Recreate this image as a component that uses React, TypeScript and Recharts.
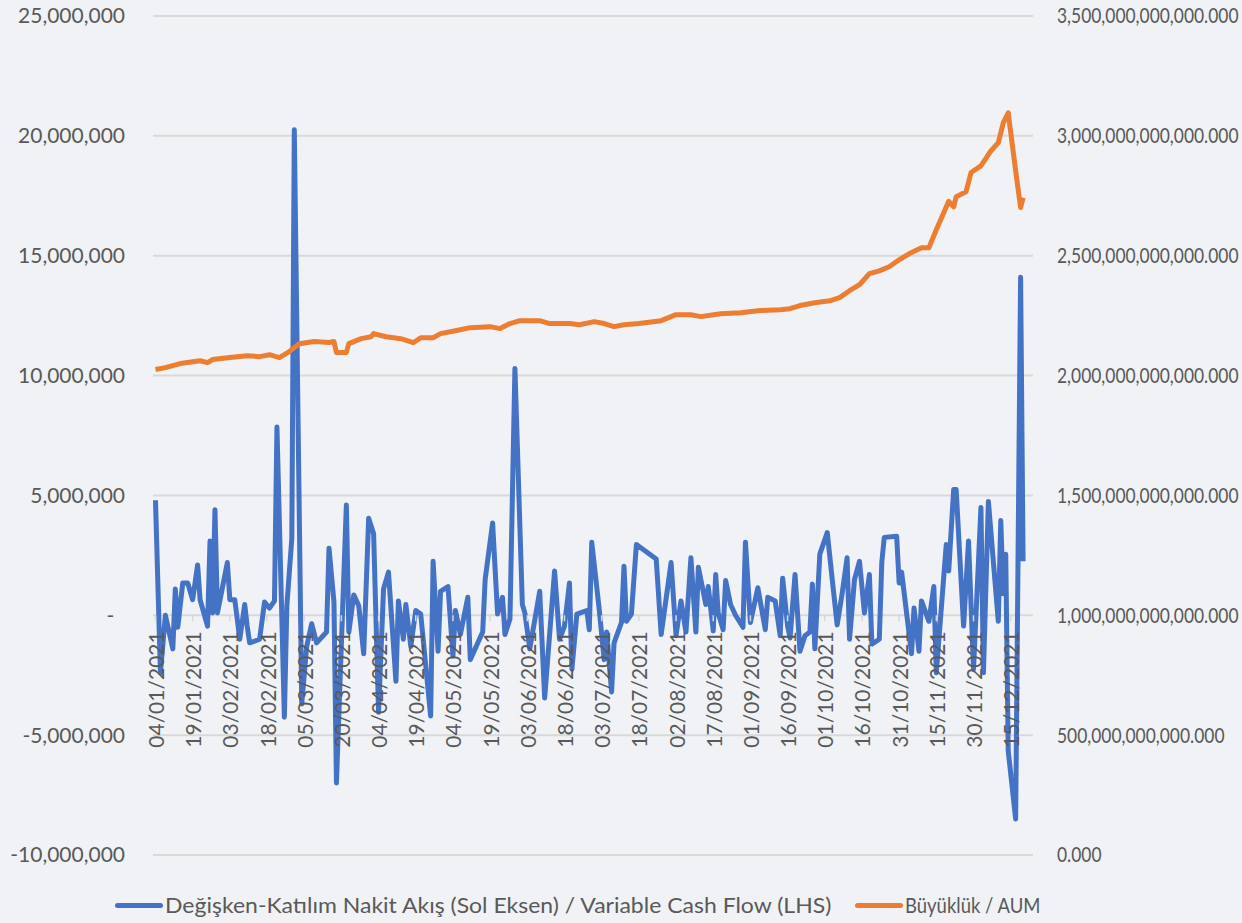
import { CartesianGrid, Line, LineChart, XAxis, YAxis } from 'recharts'

// days are dd/mm in 2021
const flowDates = [
  '04/01', '06/01', '08/01', '11/01', '12/01', '13/01', '15/01', '17/01', '19/01', '21/01',
  '22/01', '25/01', '26/01', '27/01', '28/01', '29/01', '31/01', '02/02', '03/02', '05/02',
  '07/02', '09/02', '10/02', '11/02', '15/02', '17/02', '19/02', '21/02', '22/02', '25/02',
  '26/02', '28/02', '01/03', '04/03', '06/03', '08/03', '10/03', '14/03', '15/03', '17/03',
  '18/03', '22/03', '23/03', '25/03', '27/03', '29/03', '31/03', '02/04', '04/04', '06/04',
  '08/04', '11/04', '12/04', '14/04', '15/04', '17/04', '19/04', '21/04', '25/04', '26/04',
  '28/04', '29/04', '02/05', '04/05', '05/05', '07/05', '10/05', '11/05', '16/05', '17/05',
  '20/05', '22/05', '24/05', '25/05', '27/05', '29/05', '01/06', '02/06', '04/06', '08/06',
  '10/06', '14/06', '16/06', '18/06', '20/06', '21/06', '23/06', '27/06', '28/06', '29/06',
  '02/07', '04/07', '05/07', '07/07', '08/07', '11/07', '12/07', '13/07', '15/07', '17/07',
  '25/07', '27/07', '31/07', '02/08', '04/08', '06/08', '08/08', '10/08', '11/08', '14/08',
  '15/08', '17/08', '18/08', '19/08', '21/08', '22/08', '24/08', '26/08', '29/08', '30/08',
  '01/09', '04/09', '07/09', '08/09', '11/09', '13/09', '14/09', '16/09', '17/09', '19/09',
  '21/09', '23/09', '25/09', '26/09', '27/09', '29/09', '02/10', '04/10', '06/10', '08/10',
  '10/10', '11/10', '13/10', '15/10', '17/10', '19/10', '20/10', '23/10', '24/10', '25/10',
  '30/10', '31/10', '01/11', '05/11', '06/11', '08/11', '09/11', '12/11', '14/11', '15/11',
  '19/11', '20/11', '22/11', '23/11', '26/11', '28/11', '30/11', '03/12', '04/12', '06/12',
  '10/12', '11/12', '12/12', '13/12', '14/12', '17/12', '19/12', '20/12',
]

// millions TL
const flowMillions = [
  4.8, -2.4, 0.0, -1.4, 1.1, -0.5, 1.35, 1.35, 0.65, 2.1,
  0.65, -0.45, 3.1, 0.1, 4.4, 0.1, 1.15, 2.2, 0.65, 0.65,
  -1.0, 0.45, -0.45, -1.15, -1.0, 0.55, 0.3, 0.6, 7.85, -4.25,
  0.4, 3.2, 20.25, -3.7, -1.3, -0.35, -1.15, -0.7, 2.8, 0.55,
  -7.0, 4.6, -0.7, 0.85, 0.4, -1.6, 4.05, 3.4, -4.05, 1.1,
  1.8, -2.75, 0.6, -1.0, 0.45, -1.3, 0.2, 0.05, -4.2, 2.25,
  -1.5, 1.0, 1.2, -1.7, 0.2, -0.8, 0.75, -1.85, -0.7, 1.5,
  3.85, 0.05, 0.75, -0.8, -0.15, 10.3, 0.45, 0.1, -1.4, 1.0,
  -3.45, 1.85, -1.0, -0.45, 1.35, -2.25, 0.05, 0.2, -0.6, 3.05,
  0.25, -1.85, -0.7, -3.2, -1.15, -0.3, 2.05, -0.25, 0.05, 2.95,
  2.35, -0.8, 2.2, -0.85, 0.6, -0.7, 2.4, -0.7, 2.0, 0.45,
  1.2, -0.65, 1.7, 0.1, -0.6, 1.45, 0.45, 0.0, -0.5, 3.05,
  -0.3, 1.15, -0.6, 0.75, 0.6, -0.85, 1.55, -0.45, -0.95, 1.7,
  -1.5, -0.85, -0.7, 1.3, -1.4, 2.55, 3.45, 1.5, -0.4, 0.9,
  2.4, -1.0, 1.5, 2.25, 0.1, 1.7, -1.2, -1.0, 2.2, 3.25,
  3.3, 1.35, 1.8, -1.6, 0.3, -1.5, 0.6, -0.25, 1.2, -2.4,
  2.95, 1.85, 5.25, 5.25, -0.45, 3.1, -2.25, 4.5, -2.4, 4.75,
  -0.25, 3.95, 0.9, 2.55, -5.65, -8.5, 14.1, 2.25,
]

const aumDates = [
  '04/01', '08/01', '14/01', '22/01', '25/01', '27/01', '03/02', '10/02', '15/02', '19/02',
  '23/02', '27/02', '03/03', '09/03', '15/03', '17/03', '18/03', '22/03', '23/03', '28/03',
  '01/04', '02/04', '07/04', '13/04', '18/04', '21/04', '26/04', '29/04', '05/05', '11/05',
  '19/05', '23/05', '27/05', '31/05', '08/06', '12/06', '20/06', '24/06', '30/06', '04/07',
  '08/07', '12/07', '18/07', '27/07', '02/08', '08/08', '12/08', '20/08', '28/08', '05/09',
  '13/09', '17/09', '21/09', '27/09', '03/10', '07/10', '11/10', '15/10', '19/10', '23/10',
  '27/10', '31/10', '04/11', '09/11', '12/11', '15/11', '20/11', '22/11', '23/11', '27/11',
  '29/11', '03/12', '07/12', '10/12', '12/12', '14/12', '17/12', '19/12', '20/12',
]

// billions TL
const aumBillions = [
  2025, 2033, 2050, 2062, 2054, 2067, 2075, 2083, 2079, 2087,
  2075, 2100, 2133, 2142, 2138, 2142, 2096, 2096, 2133, 2154,
  2162, 2175, 2162, 2154, 2137, 2158, 2158, 2175, 2187, 2200,
  2204, 2196, 2217, 2229, 2229, 2217, 2217, 2212, 2225, 2217,
  2204, 2212, 2217, 2229, 2254, 2254, 2246, 2258, 2262, 2271,
  2275, 2279, 2292, 2304, 2312, 2325, 2354, 2379, 2425, 2437,
  2454, 2483, 2508, 2533, 2533, 2608, 2727, 2704, 2746, 2767,
  2847, 2875, 2937, 2971, 3054, 3096, 2854, 2701, 2742,
]

const leftTicks = [-10, -5, 0, 5, 10, 15, 20, 25]
const rightTicks = [0, 500, 1000, 1500, 2000, 2500, 3000, 3500]
const dateTicks = [0, 15, 30, 45, 60, 75, 90, 105, 120, 135, 150, 165, 180, 195, 210, 225, 240, 255, 270, 285, 300, 315, 330, 345]

const flowName = 'Değişken-Katılım Nakit Akış (Sol Eksen) / Variable Cash Flow (LHS)'
const aumName = 'Büyüklük / AUM'

const START = Date.UTC(2021, 0, 4)
const DAY = 86400000

const dayOf = (d: string) => {
  const [dd, mm] = d.split('/').map(Number)
  return (Date.UTC(2021, mm - 1, dd) - START) / DAY
}

const fmtDate = (day: number) => {
  const d = new Date(START + day * DAY)
  const p = (n: number) => String(n).padStart(2, '0')
  return `${p(d.getUTCDate())}/${p(d.getUTCMonth() + 1)}/${d.getUTCFullYear()}`
}

const fmtAum = (v: number) =>
  (v * 1e9).toLocaleString('en-US', { minimumFractionDigits: 3, maximumFractionDigits: 3 })

const flowData = flowDates.map((d, i) => ({ day: dayOf(d), v: flowMillions[i] }))
const aumData = aumDates.map((d, i) => ({ day: dayOf(d), v: aumBillions[i] }))

const W = 1242
const H = 923
const TOP = 16
const XAXIS_H = 68
const PLOT_H = H - TOP - XAXIS_H
const ZERO_Y = TOP + (PLOT_H * 25) / 35

const TEXT = '#595959'
const GRID = '#d9d9d9'
const FONT = 21
const BLUE = '#4472c4'
const ORANGE = '#ed7d31'

function DateTick(props: any) {
  const { x, payload } = props
  const ty = ZERO_Y + 16
  return (
    <g>
      <line x1={x} x2={x} y1={ZERO_Y} y2={ZERO_Y + 6} stroke={GRID} strokeWidth={1.5} />
      <text
        x={x}
        y={ty}
        transform={`rotate(-90 ${x} ${ty})`}
        textAnchor="end"
        dominantBaseline="central"
        fill={TEXT}
        fontSize={FONT}
      >
        {fmtDate(payload.value)}
      </text>
    </g>
  )
}

// the right axis labels are narrower in the original, squeeze them a bit
function AumTick(props: any) {
  const { x, y, payload } = props
  return (
    <text
      x={0}
      y={0}
      dy="0.355em"
      transform={`translate(${x} ${y}) scale(0.83 1)`}
      textAnchor="start"
      fill={TEXT}
      fontSize={FONT}
    >
      {fmtAum(payload.value)}
    </text>
  )
}

function LegendItem({ color, label, left, squeeze }: { color: string; label: string; left: number; squeeze: number }) {
  return (
    <div style={{ position: 'absolute', left, top: 891, display: 'flex', alignItems: 'center' }}>
      <div style={{ width: 48, height: 5, borderRadius: 3, background: color, marginRight: 2 }} />
      <span style={{ display: 'inline-block', transform: `scaleX(${squeeze})`, transformOrigin: 'left center', whiteSpace: 'nowrap' }}>
        {label}
      </span>
    </div>
  )
}

export default function App() {
  return (
    <div style={{ position: 'relative', width: W, height: H, background: '#f0f2f5', fontFamily: 'Lato, sans-serif' }}>
      <style>{'body { margin: 0; }'}</style>
      <LineChart width={W} height={H} margin={{ top: TOP, right: 0, left: 0, bottom: 0 }}>
        <CartesianGrid vertical={false} stroke={GRID} strokeWidth={2} yAxisId="left" />
        <XAxis
          type="number"
          dataKey="day"
          domain={[-1, 354]}
          ticks={dateTicks}
          tick={<DateTick />}
          axisLine={false}
          tickLine={false}
          height={XAXIS_H}
          allowDataOverflow
        />
        <YAxis
          yAxisId="left"
          domain={[-10, 25]}
          ticks={leftTicks}
          width={153}
          tickSize={0}
          tickMargin={28}
          axisLine={false}
          tickLine={false}
          tick={{ fill: TEXT, fontSize: FONT }}
          tickFormatter={(v: number) => (v === 0 ? '-\u00a0\u00a0' : (v * 1e6).toLocaleString('en-US'))}
        />
        <YAxis
          yAxisId="right"
          orientation="right"
          domain={[0, 3500]}
          ticks={rightTicks}
          width={209}
          tickSize={0}
          tickMargin={24}
          axisLine={false}
          tickLine={false}
          tick={<AumTick />}
        />
        <Line
          data={flowData}
          dataKey="v"
          name={flowName}
          yAxisId="left"
          type="linear"
          stroke={BLUE}
          strokeWidth={5}
          strokeLinejoin="round"
          dot={false}
          isAnimationActive={false}
        />
        <Line
          data={aumData}
          dataKey="v"
          name={aumName}
          yAxisId="right"
          type="linear"
          stroke={ORANGE}
          strokeWidth={5}
          strokeLinejoin="round"
          dot={false}
          isAnimationActive={false}
        />
      </LineChart>
      <div style={{ color: TEXT, lineHeight: '28px', fontSize: 22 }}>
        <LegendItem color={BLUE} label={flowName} left={115} squeeze={1.045} />
        <LegendItem color={ORANGE} label={aumName} left={855} squeeze={0.84} />
      </div>
    </div>
  )
}
